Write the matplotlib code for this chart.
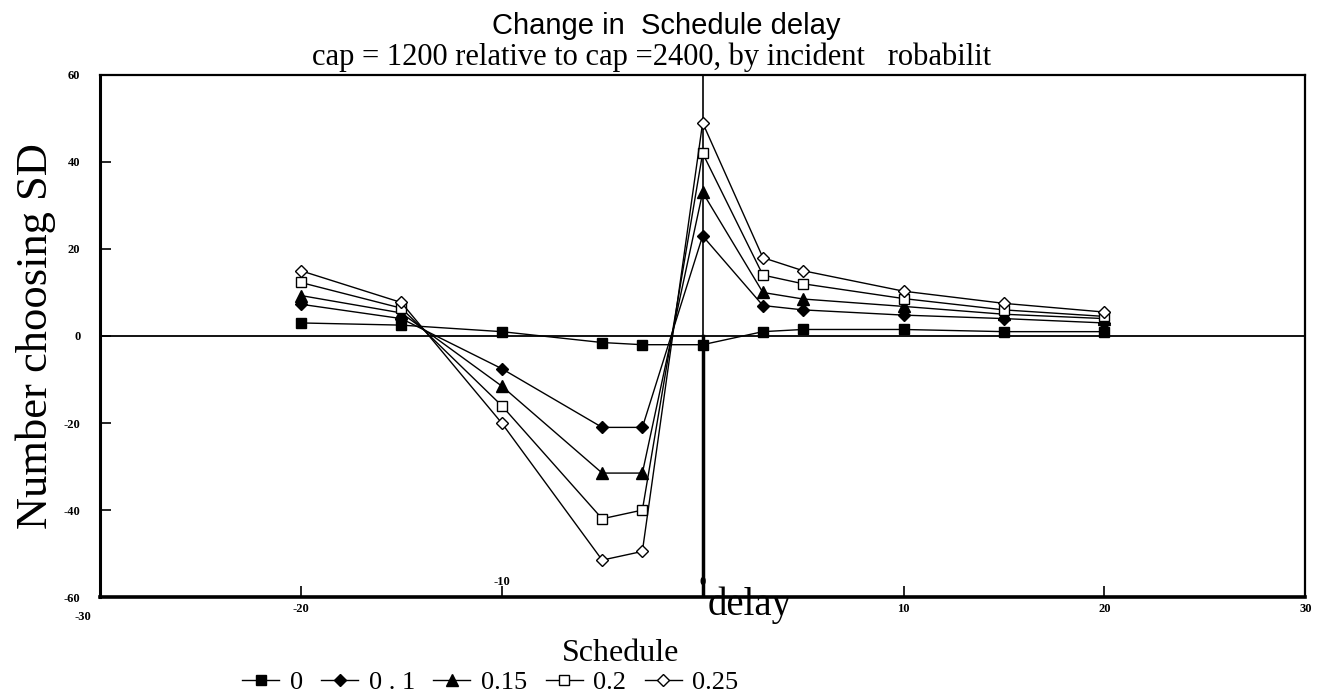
import matplotlib
matplotlib.use("Agg")
import matplotlib.pyplot as plt
from matplotlib.transforms import ScaledTranslation

# schedule delay (x) and change in number choosing each SD, by incident probability
delay = [-20, -15, -10, -5, -3, 0, 3, 5, 10, 15, 20]
p_00 = [3, 2.5, 1, -1.5, -2, -2, 1, 1.5, 1.5, 1, 1]
p_10 = [7.3, 4, -7.5, -21, -21, 23, 7, 6, 4.8, 4, 3]
p_15 = [9.3, 5.3, -11.5, -31.5, -31.5, 33, 10, 8.5, 6.8, 5, 4]
p_20 = [12.3, 6.4, -16, -42, -40, 42, 14, 12, 8.6, 6, 4.5]
p_25 = [15, 7.7, -20, -51.5, -49.5, 49, 18, 15, 10.3, 7.5, 5.5]
series_labels = ['0', '0 . 1', '0.15', '0.2', '0.25']

x_ticks = [-30, -20, -10, 0, 10, 20, 30]
y_ticks = [-60, -40, -20, 0, 20, 40, 60]

serif = 'Liberation Serif'
sans = 'Liberation Sans'

fig = plt.figure(figsize=(13.32, 7.0), dpi=100)
ax = fig.add_axes([0.075, 0.147, 0.905, 0.746])

styles = [
    dict(marker='s', mfc='black', ms=7),
    dict(marker='D', mfc='black', ms=6),
    dict(marker='^', mfc='black', ms=8),
    dict(marker='s', mfc='white', ms=7),
    dict(marker='D', mfc='white', ms=6),
]
handles = []
for vals, st, lab in zip([p_00, p_10, p_15, p_20, p_25], styles, series_labels):
    h, = ax.plot(delay, vals, color='black', lw=1.0, mec='black', mew=1.0,
                 label=lab, zorder=3, **st)
    handles.append(h)

# axis cross lines through the origin
ax.axhline(0, color='black', lw=1.3, zorder=2)
ax.plot([0, 0], [0, 60], color='black', lw=1.2, zorder=2)
ax.plot([0, 0], [-60, 0], color='black', lw=2.5, zorder=2)

ax.set_xlim(-30, 30)
ax.set_ylim(-60, 60)
ax.set_xticks(x_ticks)
ax.set_yticks(y_ticks)
ax.set_xticklabels([str(t) for t in x_ticks])
ax.set_yticklabels([str(t) for t in y_ticks])
ax.tick_params(direction='in', length=8, width=1.2, labelsize=9)
ax.tick_params(axis='x', pad=4)
ax.tick_params(axis='y', pad=14)
for lbl in ax.get_xticklabels() + ax.get_yticklabels():
    lbl.set_fontweight('bold')
    lbl.set_family(serif)

# the scan puts -10 and 0 just above the bottom axis
for tick, val in zip(ax.xaxis.get_major_ticks(), x_ticks):
    if val in (-10, 0):
        tick.label1.set_transform(tick.label1.get_transform() +
                                  ScaledTranslation(0, 0.27, fig.dpi_scale_trans))
    if val == -30:
        tick.label1.set_transform(tick.label1.get_transform() +
                                  ScaledTranslation(-0.17, -0.08, fig.dpi_scale_trans))

ax.spines['left'].set_linewidth(2.2)
ax.spines['bottom'].set_linewidth(2.6)
ax.spines['top'].set_linewidth(1.6)
ax.spines['right'].set_linewidth(1.6)

fig.text(0.5, 0.963, 'Change in  Schedule delay', family=sans, fontsize=21,
         ha='center', va='center')
fig.text(0.489, 0.918, 'cap = 1200 relative to cap =2400, by incident   robabilit',
         family=serif, fontsize=22, ha='center', va='center')

fig.text(0.027, 0.52, 'Number choosing SD', family=serif, fontsize=32,
         rotation=90, ha='center', va='center')
fig.text(0.563, 0.136, 'delay', family=serif, fontsize=28, ha='center', va='center')
fig.text(0.466, 0.066, 'Schedule', family=serif, fontsize=23, ha='center', va='center')

fig.legend(handles=handles, labels=series_labels, loc='center',
           bbox_to_anchor=(0.368, 0.025), ncol=5, frameon=False,
           prop={'family': serif, 'size': 19}, handlelength=1.4,
           handletextpad=0.4, columnspacing=0.7)

fig.savefig('out.png', dpi=100)
